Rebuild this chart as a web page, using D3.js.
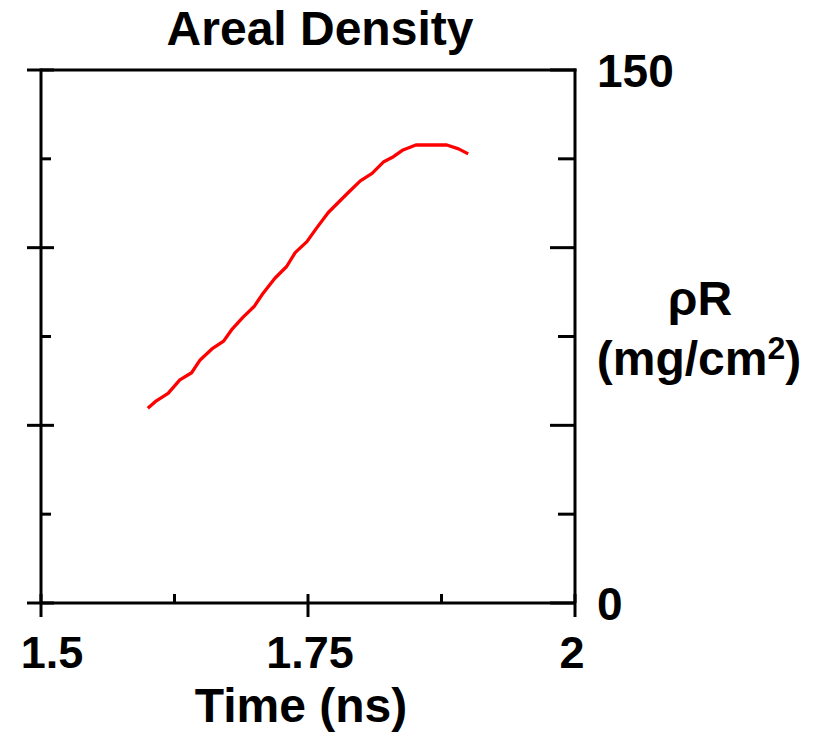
<!DOCTYPE html>
<html><head><meta charset="utf-8">
<script src="https://cdn.jsdelivr.net/npm/d3@7"></script>
<style>body{margin:0;background:#fff}svg{display:block}text{font-family:"Liberation Sans",Arial,sans-serif;font-weight:bold;fill:#000}</style>
</head><body>
<script>
const timeNs = [1.600,1.608,1.619,1.630,1.641,1.649,1.660,1.671,1.679,1.689,1.700,1.708,1.719,1.730,1.738,1.749,1.758,1.769,1.780,1.788,1.799,1.810,1.821,1.830,1.839,1.851,1.880,1.891,1.900];
const rhoR = [54.8,56.9,59.0,62.8,64.8,68.4,71.5,73.7,77.1,80.4,83.6,87.2,91.4,94.7,98.6,101.7,105.5,109.9,113.2,115.6,118.8,120.9,124.2,125.6,127.5,128.9,128.9,127.8,126.4];
const xMajor = [1.5,1.75,2];
const xMinor = [1.625,1.875];
const xLabels = ["1.5","1.75","2"];
const yMajor = [0,50,100,150];
const yMinor = [25,75,125];
const yLabelVals = [150,0];
const yLabels = ["150","0"];

const W=815,H=736;
const svg=d3.select("body").append("svg").attr("width",W).attr("height",H);
const x=d3.scaleLinear().domain([1.5,2]).range([41,575]);
const y=d3.scaleLinear().domain([0,150]).range([603,70]);
const L=x.range()[0],R=x.range()[1],B=y.range()[0],T=y.range()[1];
const g=svg.append("g").attr("stroke","#000").attr("stroke-width",3).attr("stroke-linecap","butt");
// frame
g.append("line").attr("x1",L).attr("x2",R+1.5).attr("y1",T).attr("y2",T);
g.append("line").attr("x1",L).attr("x2",R).attr("y1",B).attr("y2",B);
g.append("line").attr("x1",L).attr("x2",L).attr("y1",T-1.5).attr("y2",B);
g.append("line").attr("x1",R).attr("x2",R).attr("y1",T-1.5).attr("y2",B);
// left ticks
g.selectAll(".lmaj").data(yMajor).join("line").attr("class","lmaj").attr("x1",L-14).attr("x2",L+13).attr("y1",d=>y(d)).attr("y2",d=>y(d));
g.selectAll(".lmin").data(yMinor).join("line").attr("class","lmin").attr("x1",L).attr("x2",L+10).attr("y1",d=>y(d)).attr("y2",d=>y(d));
// right ticks
g.selectAll(".rmaj").data(yMajor).join("line").attr("class","rmaj").attr("x1",R-25).attr("x2",R).attr("y1",d=>y(d)).attr("y2",d=>y(d));
g.selectAll(".rmin").data(yMinor).join("line").attr("class","rmin").attr("x1",R-17).attr("x2",R).attr("y1",d=>y(d)).attr("y2",d=>y(d));
// bottom ticks
g.selectAll(".bmaj").data(xMajor).join("line").attr("class","bmaj").attr("x1",d=>x(d)).attr("x2",d=>x(d)).attr("y1",B-9).attr("y2",B+14);
g.selectAll(".bmin").data(xMinor).join("line").attr("class","bmin").attr("x1",d=>x(d)).attr("x2",d=>x(d)).attr("y1",B-9).attr("y2",B);

// data line
svg.append("path").datum(timeNs.map((t,i)=>[t,rhoR[i]]))
  .attr("fill","none").attr("stroke","#ff0000").attr("stroke-width",3.3).attr("stroke-linejoin","round")
  .attr("d",d3.line().x(d=>x(d[0])).y(d=>y(d[1])));

// x labels
svg.selectAll(".xl").data(xMajor).join("text").attr("class","xl")
  .attr("x",(d,i)=>x(d)+[11,2,-3][i]).attr("y",668).attr("text-anchor","middle").attr("font-size",45).text((d,i)=>xLabels[i]);
// y labels
svg.selectAll(".yl").data(yLabelVals).join("text").attr("class","yl")
  .attr("x",597).attr("y",d=>y(d)+17).attr("font-size",46).text((d,i)=>yLabels[i]);
svg.append("text").attr("x",320).attr("y",45).attr("text-anchor","middle").attr("font-size",48).text("Areal Density");
svg.append("text").attr("x",301).attr("y",722).attr("text-anchor","middle").attr("font-size",48).text("Time (ns)");
svg.append("text").attr("x",700).attr("y",315).attr("text-anchor","middle").attr("font-size",48).text("ρR");
const u=svg.append("text").attr("x",699).attr("y",375).attr("text-anchor","middle").attr("font-size",48);
u.append("tspan").text("(mg/cm");
u.append("tspan").attr("font-size",32).attr("dy",-16).text("2");
u.append("tspan").attr("dy",16).text(")");
</script>
</body></html>
